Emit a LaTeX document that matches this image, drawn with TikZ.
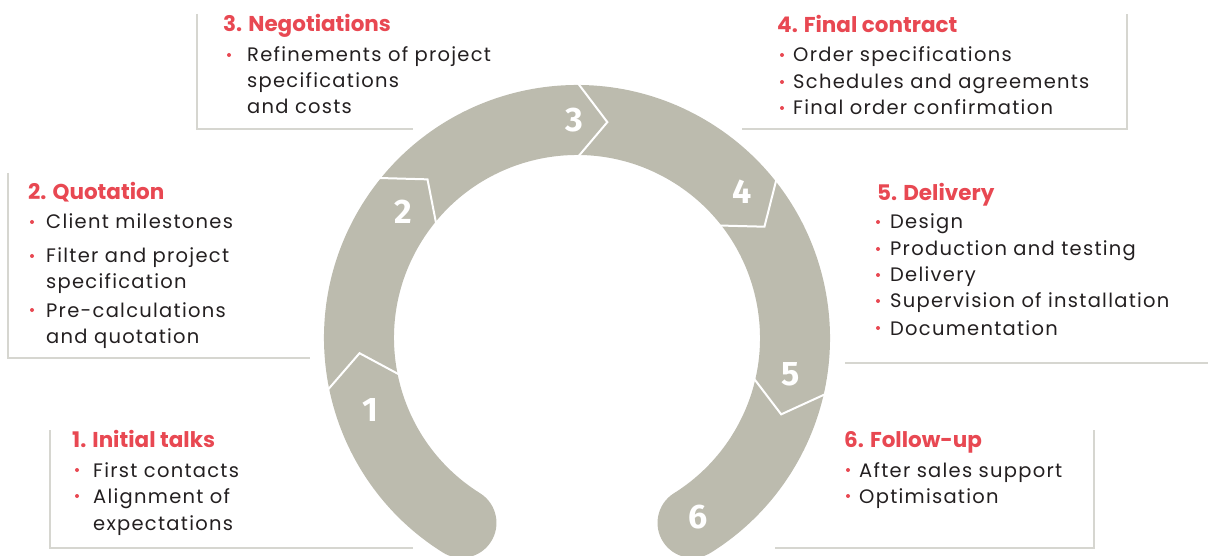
\documentclass[tikz,border=0pt]{standalone}
\usepackage{fontspec}
\setmainfont{Poppins}
\newfontfamily\bodyfont{Poppins}[LetterSpace=6.5]
\newfontfamily\numfont{Fira Sans}
\definecolor{band}{RGB}{188,187,174}
\definecolor{accent}{RGB}{232,72,82}
\definecolor{ink}{RGB}{35,31,32}
\definecolor{rulec}{RGB}{214,214,208}
\begin{document}
\begin{tikzpicture}[x=1pt,y=-1pt,
  title/.style={anchor=base west, text=accent, font=\bfseries\fontsize{21.5}{21.5}\selectfont, inner sep=0pt},
  item/.style={anchor=base west, text=ink, font=\bodyfont\fontsize{19.5}{19.5}\selectfont, inner sep=0pt},
  num/.style={text=white, font=\numfont\bfseries\fontsize{34}{34}\selectfont, inner sep=0pt},
  framel/.style={draw=rulec, line width=1.5pt},
  divider/.style={draw=white, line width=2pt, line join=miter},
  dot/.style={circle, fill=accent, minimum size=4pt, inner sep=0pt}]
\useasboundingbox (0,0) rectangle (1208,556);
\clip (0,0) rectangle (1208,556);
% ring
\coordinate (c) at (577,338);
\draw[band, line width=70pt, line cap=round] (c) ++(-238:218) arc[start angle=-238, end angle=58, radius=218];
\foreach \t in {-192,-141.3,-90,-38.7,12.5}
  \draw[divider, shift={(c)}] (\t:256) -- ({\t+8}:218) -- (\t:180);
% numbers
\node[num] (n1) at (370,410) {1};
\node[num] (n2) at (403,212) {2};
\node[num] (n3) at (574,120) {3};
\node[num] (n4) at (742,192) {4};
\node[num] (n5) at (791,374) {5};
\node[num] (n6) at (698,517) {6};
% frames
\draw[framel] (197,14) -- (197,129) -- (413,129);
\draw[framel] (742,129) -- (1127,129) -- (1127,14);
\draw[framel] (8,173) -- (8,358) -- (310,358);
\draw[framel] (845,363) -- (1208,363);
\draw[framel] (50,430) -- (50,548) -- (413,548);
\draw[framel] (775,548) -- (1094,548) -- (1094,430);
% block 3
\node[title] (t3) at (223,32) {3. Negotiations};
\node[dot] (d3a) at (229,55) {};
\node[item] (i3a) at (247,62) {Refinements of project};
\node[item] (i3b) at (247,88) {specifications};
\node[item] (i3c) at (247,114) {and costs};
% block 4
\node[title] (t4) at (777,33) {4. Final contract};
\node[dot] (d4a) at (782,55) {};
\node[dot] (d4b) at (782,82) {};
\node[dot] (d4c) at (782,108) {};
\node[item] (i4a) at (793,62) {Order specifications};
\node[item] (i4b) at (793,89) {Schedules and agreements};
\node[item] (i4c) at (793,115) {Final order confirmation};
% block 2
\node[title] (t2) at (28,200) {2. Quotation};
\node[dot] (d2a) at (32,222) {};
\node[dot] (d2b) at (32,256) {};
\node[dot] (d2c) at (32,310) {};
\node[item] (i2a) at (46,229) {Client milestones};
\node[item] (i2b) at (46,263) {Filter and project};
\node[item] (i2c) at (46,289) {specification};
\node[item] (i2d) at (46,317) {Pre-calculations};
\node[item] (i2e) at (46,343) {and quotation};
% block 5
\node[title] (t5) at (877,201) {5. Delivery};
\node[dot] (d5a) at (878,222) {};
\node[dot] (d5b) at (878,249) {};
\node[dot] (d5c) at (878,275) {};
\node[dot] (d5d) at (878,301) {};
\node[dot] (d5e) at (878,328) {};
\node[item] (i5a) at (890,229) {Design};
\node[item] (i5b) at (890,256) {Production and testing};
\node[item] (i5c) at (890,282) {Delivery};
\node[item] (i5d) at (890,308) {Supervision of installation};
\node[item] (i5e) at (890,335) {Documentation};
% block 1
\node[title] (t1) at (72,447) {1. Initial talks};
\node[dot] (d1a) at (77,470) {};
\node[dot] (d1b) at (77,496) {};
\node[item] (i1a) at (93,477) {First contacts};
\node[item] (i1b) at (93,503) {Alignment of};
\node[item] (i1c) at (93,530) {expectations};
% block 6
\node[title] (t6) at (844,447) {6. Follow-up};
\node[dot] (d6a) at (848,470) {};
\node[dot] (d6b) at (848,496) {};
\node[item] (i6a) at (859,477) {After sales support};
\node[item] (i6b) at (859,503) {Optimisation};
\end{tikzpicture}
\end{document}
